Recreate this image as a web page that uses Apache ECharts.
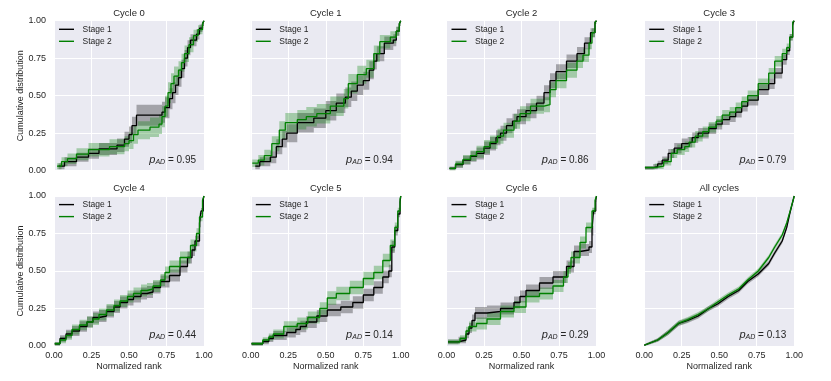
<!DOCTYPE html>
<html>
<head>
<meta charset="utf-8">
<script src="https://cdn.jsdelivr.net/npm/echarts@6/dist/echarts.min.js"></script>
<style>
  html, body { margin: 0; padding: 0; background: #fff; }
  #chart { width: 831px; height: 381px; }
</style>
</head>
<body>
<div id="chart"></div>
<script>
// panel titles and Anderson-Darling p values
var TITLES = ['Cycle 0', 'Cycle 1', 'Cycle 2', 'Cycle 3', 'Cycle 4', 'Cycle 5', 'Cycle 6', 'All cycles'];
var P_AD = ['0.95', '0.94', '0.86', '0.79', '0.44', '0.14', '0.29', '0.13'];
var STAGES = ['Stage 1', 'Stage 2'];

// ECDF points: [normalized rank, cumulative, band half-width]
var cycle0Stage1 = [[0.03,0.03,0.02],[0.07,0.06,0.03],[0.15,0.09,0.03],[0.23,0.115,0.035],[0.30,0.145,0.04],[0.42,0.17,0.045],[0.47,0.21,0.05],[0.50,0.24,0.055],[0.52,0.30,0.06],[0.55,0.37,0.07],[0.72,0.39,0.07],[0.74,0.42,0.07],[0.77,0.48,0.07],[0.79,0.52,0.07],[0.81,0.57,0.065],[0.83,0.62,0.06],[0.85,0.68,0.06],[0.87,0.75,0.055],[0.89,0.82,0.05],[0.91,0.87,0.04],[0.95,0.91,0.035],[0.97,0.95,0.025],[0.99,0.98,0.015],[1.0,1.0,0]];
var cycle0Stage2 = [[0.02,0.03,0.02],[0.05,0.06,0.03],[0.09,0.08,0.035],[0.15,0.11,0.04],[0.23,0.14,0.045],[0.37,0.16,0.05],[0.47,0.18,0.05],[0.50,0.20,0.055],[0.53,0.24,0.06],[0.56,0.27,0.06],[0.64,0.29,0.065],[0.70,0.31,0.065],[0.72,0.36,0.07],[0.74,0.43,0.07],[0.76,0.52,0.07],[0.78,0.58,0.07],[0.80,0.63,0.065],[0.83,0.67,0.06],[0.85,0.72,0.06],[0.87,0.78,0.055],[0.90,0.84,0.05],[0.93,0.90,0.04],[0.96,0.94,0.03],[0.99,0.98,0.015],[1.0,1.0,0]];
var cycle1Stage1 = [[0.03,0.03,0.02],[0.06,0.06,0.03],[0.13,0.09,0.04],[0.17,0.16,0.05],[0.21,0.21,0.055],[0.24,0.25,0.06],[0.31,0.32,0.065],[0.42,0.35,0.065],[0.50,0.40,0.065],[0.57,0.45,0.065],[0.63,0.49,0.065],[0.67,0.53,0.065],[0.71,0.57,0.065],[0.75,0.60,0.06],[0.79,0.67,0.06],[0.82,0.73,0.055],[0.84,0.78,0.05],[0.89,0.85,0.045],[0.95,0.87,0.04],[0.97,0.93,0.03],[0.99,0.98,0.015],[1.0,1.0,0]];
var cycle1Stage2 = [[0.01,0.05,0.025],[0.05,0.07,0.035],[0.09,0.10,0.04],[0.14,0.18,0.05],[0.19,0.27,0.06],[0.23,0.32,0.065],[0.31,0.34,0.065],[0.37,0.36,0.065],[0.44,0.38,0.065],[0.53,0.43,0.065],[0.62,0.48,0.065],[0.65,0.58,0.065],[0.71,0.64,0.06],[0.77,0.68,0.06],[0.82,0.78,0.055],[0.86,0.86,0.045],[0.93,0.89,0.04],[0.97,0.93,0.03],[0.99,0.98,0.015],[1.0,1.0,0]];
var cycle2Stage1 = [[0.02,0.015,0.012],[0.06,0.04,0.022],[0.11,0.07,0.03],[0.16,0.095,0.035],[0.20,0.115,0.04],[0.25,0.15,0.045],[0.29,0.18,0.045],[0.33,0.22,0.05],[0.36,0.25,0.05],[0.40,0.30,0.05],[0.44,0.33,0.05],[0.47,0.36,0.05],[0.53,0.40,0.05],[0.60,0.45,0.05],[0.65,0.52,0.05],[0.69,0.60,0.05],[0.73,0.66,0.05],[0.80,0.73,0.045],[0.87,0.78,0.045],[0.92,0.85,0.04],[0.96,0.92,0.03],[0.99,0.99,0.012],[1.0,1.0,0]];
var cycle2Stage2 = [[0.02,0.015,0.012],[0.06,0.045,0.022],[0.11,0.075,0.03],[0.16,0.10,0.035],[0.20,0.127,0.04],[0.25,0.16,0.045],[0.29,0.19,0.045],[0.34,0.23,0.05],[0.38,0.27,0.05],[0.45,0.33,0.05],[0.49,0.38,0.05],[0.56,0.43,0.05],[0.65,0.44,0.05],[0.69,0.54,0.05],[0.73,0.60,0.05],[0.80,0.67,0.05],[0.87,0.73,0.045],[0.91,0.77,0.045],[0.95,0.85,0.04],[0.97,0.92,0.03],[0.99,0.99,0.012],[1.0,1.0,0]];
var cycle3Stage1 = [[0.005,0.02,0.012],[0.06,0.027,0.018],[0.09,0.045,0.022],[0.12,0.07,0.025],[0.16,0.115,0.03],[0.20,0.15,0.035],[0.25,0.18,0.035],[0.29,0.19,0.035],[0.32,0.22,0.035],[0.36,0.25,0.035],[0.43,0.28,0.035],[0.48,0.31,0.035],[0.52,0.34,0.035],[0.57,0.36,0.035],[0.61,0.39,0.035],[0.65,0.43,0.035],[0.69,0.47,0.035],[0.76,0.54,0.035],[0.83,0.58,0.035],[0.87,0.65,0.035],[0.92,0.74,0.033],[0.95,0.80,0.028],[0.97,0.89,0.022],[0.99,0.98,0.01],[1.0,1.0,0]];
var cycle3Stage2 = [[0.005,0.02,0.012],[0.07,0.03,0.018],[0.13,0.06,0.025],[0.18,0.115,0.03],[0.22,0.14,0.035],[0.27,0.16,0.035],[0.30,0.19,0.035],[0.34,0.23,0.035],[0.39,0.26,0.035],[0.43,0.29,0.035],[0.48,0.33,0.035],[0.52,0.37,0.035],[0.57,0.39,0.035],[0.61,0.42,0.035],[0.65,0.46,0.035],[0.69,0.50,0.035],[0.76,0.58,0.035],[0.83,0.65,0.035],[0.87,0.73,0.035],[0.92,0.78,0.033],[0.95,0.82,0.028],[0.97,0.89,0.022],[0.99,0.99,0.01],[1.0,1.0,0]];
var cycle4Stage1 = [[0.005,0.015,0.012],[0.04,0.05,0.022],[0.08,0.08,0.028],[0.12,0.10,0.033],[0.17,0.13,0.035],[0.22,0.16,0.037],[0.26,0.19,0.04],[0.30,0.20,0.04],[0.35,0.23,0.04],[0.40,0.26,0.04],[0.44,0.29,0.04],[0.49,0.31,0.04],[0.53,0.33,0.04],[0.58,0.35,0.04],[0.62,0.36,0.04],[0.66,0.39,0.04],[0.71,0.43,0.04],[0.77,0.47,0.04],[0.84,0.53,0.04],[0.89,0.59,0.04],[0.92,0.64,0.04],[0.94,0.70,0.035],[0.97,0.82,0.028],[0.98,0.90,0.02],[0.995,0.98,0.01],[1.0,1.0,0]];
var cycle4Stage2 = [[0.005,0.015,0.012],[0.04,0.04,0.022],[0.08,0.07,0.028],[0.12,0.11,0.033],[0.17,0.14,0.035],[0.22,0.16,0.037],[0.26,0.18,0.04],[0.30,0.21,0.04],[0.35,0.24,0.04],[0.40,0.27,0.04],[0.44,0.30,0.04],[0.49,0.33,0.04],[0.53,0.35,0.04],[0.58,0.37,0.04],[0.62,0.38,0.04],[0.66,0.40,0.04],[0.71,0.44,0.04],[0.74,0.49,0.04],[0.77,0.53,0.04],[0.84,0.59,0.04],[0.91,0.67,0.04],[0.95,0.75,0.035],[0.97,0.86,0.028],[0.99,0.97,0.01],[1.0,1.0,0]];
var cycle5Stage1 = [[0.005,0.015,0.012],[0.08,0.03,0.018],[0.12,0.05,0.024],[0.15,0.07,0.03],[0.24,0.09,0.034],[0.30,0.11,0.036],[0.33,0.13,0.038],[0.37,0.16,0.04],[0.44,0.20,0.04],[0.51,0.24,0.042],[0.60,0.26,0.042],[0.68,0.29,0.042],[0.75,0.34,0.042],[0.82,0.39,0.042],[0.88,0.46,0.042],[0.92,0.50,0.042],[0.94,0.66,0.04],[0.96,0.77,0.033],[0.98,0.88,0.022],[0.995,0.96,0.01],[1.0,1.0,0]];
var cycle5Stage2 = [[0.005,0.015,0.012],[0.08,0.04,0.018],[0.12,0.06,0.024],[0.15,0.08,0.03],[0.22,0.13,0.035],[0.31,0.15,0.04],[0.38,0.19,0.04],[0.46,0.25,0.042],[0.51,0.32,0.045],[0.57,0.35,0.045],[0.66,0.39,0.045],[0.75,0.45,0.045],[0.82,0.49,0.045],[0.88,0.57,0.045],[0.93,0.67,0.04],[0.96,0.79,0.033],[0.98,0.90,0.022],[0.995,0.98,0.01],[1.0,1.0,0]];
var cycle6Stage1 = [[0.01,0.027,0.016],[0.08,0.04,0.022],[0.13,0.08,0.028],[0.15,0.12,0.034],[0.17,0.17,0.04],[0.19,0.22,0.04],[0.27,0.23,0.04],[0.36,0.25,0.04],[0.45,0.29,0.04],[0.49,0.33,0.04],[0.53,0.37,0.04],[0.62,0.42,0.04],[0.71,0.46,0.04],[0.80,0.53,0.04],[0.85,0.63,0.04],[0.89,0.64,0.04],[0.95,0.66,0.04],[0.97,0.77,0.033],[0.98,0.90,0.022],[0.995,0.97,0.01],[1.0,1.0,0]];
var cycle6Stage2 = [[0.01,0.027,0.016],[0.09,0.05,0.022],[0.13,0.10,0.028],[0.15,0.13,0.034],[0.20,0.15,0.04],[0.27,0.18,0.04],[0.36,0.23,0.04],[0.45,0.26,0.04],[0.53,0.33,0.04],[0.62,0.35,0.04],[0.71,0.40,0.04],[0.78,0.46,0.04],[0.81,0.52,0.04],[0.83,0.59,0.04],[0.89,0.69,0.04],[0.93,0.79,0.033],[0.97,0.90,0.022],[0.99,0.97,0.01],[1.0,1.0,0]];
var allStage1 = [[0.0,0.005,0.006],[0.09,0.04,0.012],[0.16,0.09,0.016],[0.23,0.15,0.017],[0.29,0.17,0.017],[0.36,0.20,0.017],[0.43,0.25,0.017],[0.49,0.28,0.017],[0.56,0.33,0.017],[0.63,0.37,0.017],[0.69,0.43,0.017],[0.76,0.48,0.017],[0.83,0.55,0.017],[0.87,0.62,0.017],[0.92,0.70,0.016],[0.95,0.79,0.014],[0.97,0.88,0.012],[0.995,0.98,0.006],[1.0,1.0,0]];
var allStage2 = [[0.0,0.005,0.006],[0.09,0.04,0.012],[0.16,0.09,0.016],[0.23,0.153,0.017],[0.29,0.176,0.017],[0.36,0.21,0.017],[0.43,0.25,0.017],[0.49,0.293,0.017],[0.56,0.34,0.017],[0.63,0.38,0.017],[0.69,0.44,0.017],[0.76,0.50,0.017],[0.83,0.59,0.017],[0.87,0.66,0.017],[0.92,0.74,0.016],[0.95,0.82,0.014],[0.97,0.89,0.012],[0.995,0.98,0.006],[1.0,1.0,0]];

var STAGE1 = [cycle0Stage1, cycle1Stage1, cycle2Stage1, cycle3Stage1, cycle4Stage1, cycle5Stage1, cycle6Stage1, allStage1];
var STAGE2 = [cycle0Stage2, cycle1Stage2, cycle2Stage2, cycle3Stage2, cycle4Stage2, cycle5Stage2, cycle6Stage2, allStage2];

// layout of the 2x4 panels (px)
var COL_LEFT = [54, 250.8, 446.5, 644.2];
var ROW_TOP = [20.7, 196];
var PANEL = 150;
var FONT = '"Liberation Sans", Arial, sans-serif';
var INK = '#262626';
var COLORS = ['#000000', '#008000'];

// confidence band as one polygon, built through the axis scales (api.coord)
function bandRenderer(pts, stepped, color) {
  return function (params, api) {
    if (params.dataIndex !== 0) return null;
    var upper = [], lower = [];
    pts.forEach(function (p, k) {
      upper.push(api.coord([p[0], p[1] + p[2]]));
      lower.push(api.coord([p[0], p[1] - p[2]]));
      if (stepped && k < pts.length - 1) {
        upper.push(api.coord([pts[k + 1][0], p[1] + p[2]]));
        lower.push(api.coord([pts[k + 1][0], p[1] - p[2]]));
      }
    });
    var cs = params.coordSys;
    return {
      type: 'polygon',
      shape: { points: upper.concat(lower.reverse()) },
      style: { fill: color, opacity: 0.3 },
      clipPath: { type: 'rect', shape: { x: cs.x, y: cs.y, width: cs.width, height: cs.height } }
    };
  };
}

var chart = echarts.init(document.getElementById('chart'), null, { renderer: 'canvas' });

var grid = [], xAxis = [], yAxis = [], series = [], title = [], legend = [], graphic = [];

TITLES.forEach(function (name, i) {
  var col = i % 4, row = Math.floor(i / 4);
  var left = COL_LEFT[col], top = ROW_TOP[row];
  grid.push({ left: left, top: top, width: PANEL, height: PANEL, show: true,
    backgroundColor: '#EAEAF2', borderWidth: 0 });
  xAxis.push({
    gridIndex: i, type: 'value', min: 0, max: 1, interval: 0.25,
    axisLine: { show: false }, axisTick: { show: false },
    splitLine: { lineStyle: { color: '#ffffff', width: 1 } },
    axisLabel: { show: row === 1, margin: 5, fontSize: 9, color: INK, fontFamily: FONT,
      formatter: function (v) { return v.toFixed(2); } },
    name: row === 1 ? 'Normalized rank' : '', nameLocation: 'middle', nameGap: 16,
    nameTextStyle: { fontSize: 9, color: INK, fontFamily: FONT }
  });
  yAxis.push({
    gridIndex: i, type: 'value', min: 0, max: 1, interval: 0.25,
    axisLine: { show: false }, axisTick: { show: false },
    splitLine: { lineStyle: { color: '#ffffff', width: 1 } },
    axisLabel: { show: col === 0, margin: 8, fontSize: 9, color: INK, fontFamily: FONT,
      formatter: function (v) { return v.toFixed(2); } },
    name: col === 0 ? 'Cumulative distribution' : '', nameLocation: 'middle', nameGap: 20,
    nameTextStyle: { fontSize: 9, color: INK, fontFamily: FONT }
  });
  title.push({
    text: name, left: left + PANEL / 2, top: top - 12.5, textAlign: 'center', padding: 0,
    textStyle: { fontSize: 9.5, fontWeight: 'normal', color: INK, fontFamily: FONT }
  });
  legend.push({
    data: STAGES, orient: 'vertical', left: left + 5, top: top + 3.6, padding: 0,
    icon: 'rect', itemWidth: 15, itemHeight: 1.4, itemGap: 2,
    textStyle: { fontSize: 8.5, color: INK, fontFamily: FONT, lineHeight: 10, padding: [0, 0, 0, 3.5] },
    selectedMode: false
  });
  graphic.push({
    type: 'text', x: left + PANEL - 8, y: top + PANEL - 11, silent: true,
    style: {
      text: '{p|p}{s|AD}{n| = ' + P_AD[i] + '}', align: 'right', verticalAlign: 'middle',
      fill: INK,
      rich: {
        p: { fontSize: 11, fontStyle: 'italic', fontFamily: FONT, fill: INK, verticalAlign: 'bottom' },
        s: { fontSize: 7, fontStyle: 'italic', fontFamily: FONT, fill: INK, verticalAlign: 'bottom', lineHeight: 9 },
        n: { fontSize: 10, fontFamily: FONT, fill: INK, verticalAlign: 'bottom' }
      }
    }
  });

  var stepped = i !== 7;
  [STAGE1[i], STAGE2[i]].forEach(function (pts, s) {
    series.push({
      name: 'band', type: 'custom', xAxisIndex: i, yAxisIndex: i, silent: true,
      renderItem: bandRenderer(pts, stepped, COLORS[s]),
      data: pts.map(function (p) { return [p[0], p[1]]; })
    });
    series.push({
      name: STAGES[s], type: 'line', xAxisIndex: i, yAxisIndex: i, symbol: 'none',
      step: stepped ? 'end' : false, silent: true,
      color: COLORS[s], lineStyle: { color: COLORS[s], width: 1.3 },
      data: pts.map(function (p) { return [p[0], p[1]]; })
    });
  });
});

chart.setOption({
  animation: false,
  backgroundColor: '#ffffff',
  textStyle: { fontFamily: FONT },
  title: title, legend: legend, grid: grid, xAxis: xAxis, yAxis: yAxis,
  series: series, graphic: graphic
});
</script>
</body>
</html>
